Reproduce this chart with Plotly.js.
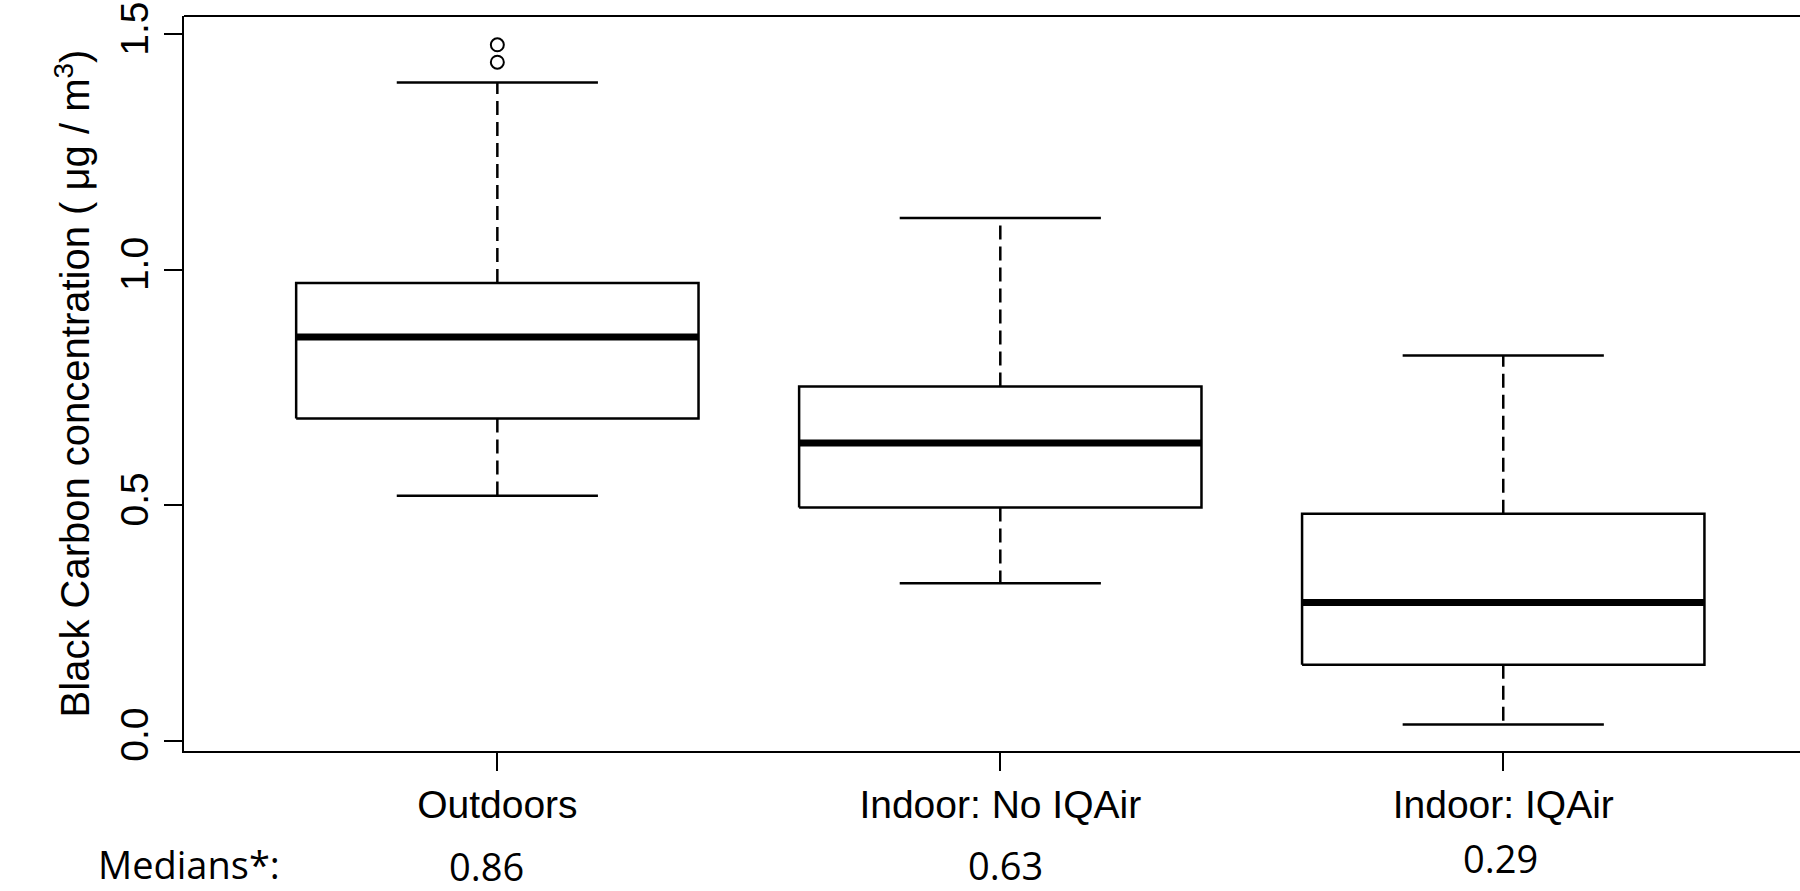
<!DOCTYPE html>
<html>
<head>
<meta charset="utf-8">
<script src="https://cdn.plot.ly/plotly-3.0.1.min.js"></script>
<style>html,body{margin:0;padding:0;background:#fff;}#chart{width:1800px;height:891px;}</style>
</head>
<body>
<div id="chart"></div>
<script>
// ---- data ----
const categories = ["Outdoors", "Indoor: No IQAir", "Indoor: IQAir"];
const lowerWhisker = [0.520, 0.334, 0.034];
const q1 = [0.684, 0.495, 0.161];
const medians = [0.857, 0.632, 0.293];
const q3 = [0.972, 0.752, 0.482];
const upperWhisker = [1.398, 1.110, 0.818];
const outlierGroup = [1, 1];
const outlierValues = [1.441, 1.478];
const medianLabels = ["0.86", "0.63", "0.29"];
const yTickVals = [0, 0.5, 1.0, 1.5];

// ---- styling / geometry (not data) ----
const halfBox = 0.4, halfStaple = 0.2;
const lineCol = "#000";
const traces = [];
const pos = categories.map((c, i) => i + 1);

categories.forEach((cat, i) => {
  const p = pos[i];
  traces.push({
    type: "scatter", mode: "lines", name: cat, showlegend: false, hoverinfo: "skip",
    x: [p - halfBox, p + halfBox, p + halfBox, p - halfBox, p - halfBox],
    y: [q1[i], q1[i], q3[i], q3[i], q1[i]],
    line: {color: lineCol, width: 2.5}, fill: "toself", fillcolor: "#fff"
  });
  traces.push({
    type: "scatter", mode: "lines", showlegend: false, hoverinfo: "skip",
    x: [p, p, null, p, p],
    y: [q3[i], upperWhisker[i], null, q1[i], lowerWhisker[i]],
    line: {color: lineCol, width: 2.5, dash: "14px,7px"}
  });
  traces.push({
    type: "scatter", mode: "lines", showlegend: false, hoverinfo: "skip",
    x: [p - halfStaple, p + halfStaple, null, p - halfStaple, p + halfStaple],
    y: [upperWhisker[i], upperWhisker[i], null, lowerWhisker[i], lowerWhisker[i]],
    line: {color: lineCol, width: 2.5}
  });
  traces.push({
    type: "scatter", mode: "lines", showlegend: false, hoverinfo: "skip",
    x: [p - halfBox, p + halfBox],
    y: [medians[i], medians[i]],
    line: {color: lineCol, width: 7}
  });
});

traces.push({
  type: "scatter", mode: "markers", showlegend: false,
  x: outlierGroup, y: outlierValues,
  marker: {symbol: "circle-open", size: 13, color: lineCol, line: {width: 2, color: lineCol}}
});

const rFont = "Liberation Sans, Arial, sans-serif";
const annFont = "Open Sans, Lato, sans-serif";
const medianX = [0.978, 2.011, 2.994];
const medianY = [-0.157, -0.155, -0.146];

const annotations = medianLabels.map((t, i) => ({
  text: t, xref: "x", yref: "paper", x: medianX[i], y: medianY[i],
  xanchor: "center", yanchor: "middle", showarrow: false,
  font: {family: annFont, size: 38, color: "#000"}
}));
annotations.push({
  text: "Medians*:", xref: "paper", yref: "paper", x: -0.0545, y: -0.154,
  xanchor: "left", yanchor: "middle", showarrow: false,
  font: {family: annFont, size: 38, color: "#000"}
});

const layout = {
  width: 1800, height: 891,
  margin: {l: 184, r: 0, t: 16, b: 140, pad: 0},
  paper_bgcolor: "#fff", plot_bgcolor: "#fff",
  showlegend: false,
  font: {family: rFont, color: "#000"},
  xaxis: {
    range: [0.377, 3.59], tickvals: pos, ticktext: categories,
    ticks: "outside", ticklen: 18, tickwidth: 2, tickcolor: lineCol,
    showline: true, linewidth: 2, linecolor: lineCol,
    showgrid: false, zeroline: false,
    tickfont: {family: rFont, size: 39, color: "#000"}
  },
  yaxis: {
    range: [-0.0223, 1.5392], tickvals: yTickVals, tickformat: ".1f",
    ticks: "outside", ticklen: 18, tickwidth: 2, tickcolor: lineCol,
    showline: true, linewidth: 2, linecolor: lineCol,
    showgrid: false, zeroline: false, tickangle: -90,
    tickfont: {family: rFont, size: 39, color: "#000"},
    title: {text: "Black Carbon concentration ( μg / m<sup>3</sup>)", font: {family: rFont, size: 40, color: "#000"}, standoff: 11}
  },
  shapes: [{type: "line", xref: "paper", yref: "paper", x0: 0, x1: 1, y0: 1, y1: 1, line: {color: lineCol, width: 2}}],
  annotations: annotations
};

Plotly.newPlot("chart", traces, layout, {displayModeBar: false, staticPlot: true});
</script>
</body>
</html>
